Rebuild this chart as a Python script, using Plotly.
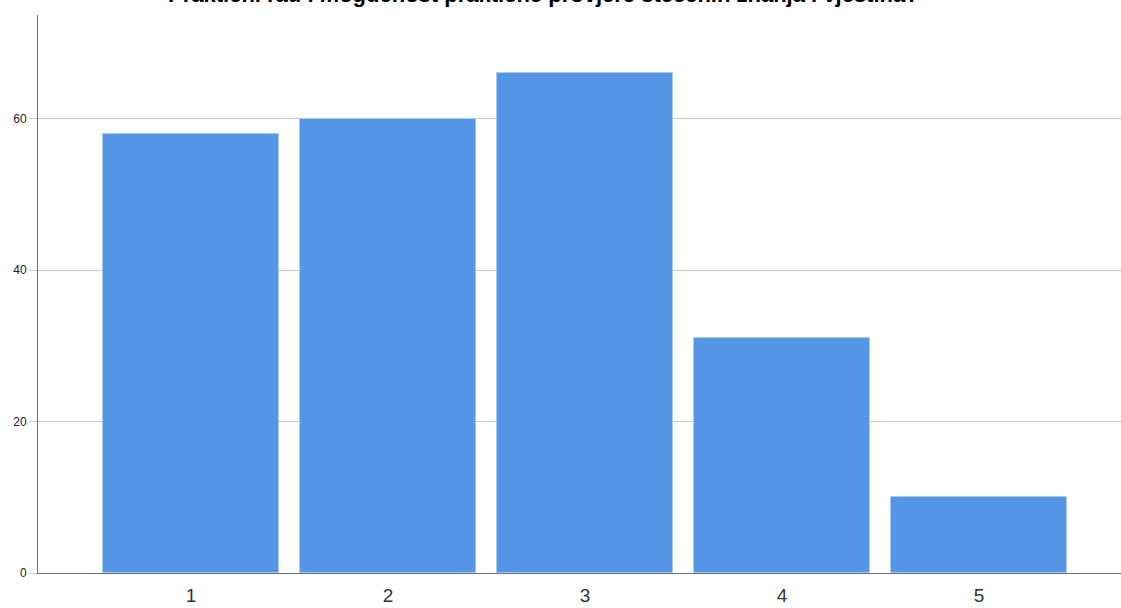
import plotly.graph_objects as go

categories = ["1", "2", "3", "4", "5"]
counts = [58, 60, 66, 31, 10]
y_ticks = [0, 20, 40, 60]
title_text = "Praktični rad i mogućnost praktične provjere stečenih znanja i vještina?"

fig = go.Figure()
fig.add_trace(go.Bar(
    x=[1, 2, 3, 4, 5],
    y=counts,
    width=0.893,
    marker=dict(color="#5596E6", line=dict(color="#A9C9F2", width=1)),
    hoverinfo="x+y",
))

fig.add_annotation(
    text="<b>" + title_text + "</b>",
    x=0.467, xref="paper", xanchor="center",
    y=1, yref="paper", yanchor="bottom", yshift=6,
    showarrow=False,
    font=dict(family="Liberation Sans, Arial", size=22, color="black"),
)

fig.update_layout(
    width=1121, height=608,
    margin=dict(l=38, r=0, t=15, b=35),
    paper_bgcolor="white", plot_bgcolor="white",
    showlegend=False,
    bargap=0,
)
fig.update_xaxes(
    range=[0.223, 5.72],
    tickmode="array", tickvals=[1, 2, 3, 4, 5], ticktext=categories,
    showgrid=False, showline=True, linecolor="#6e6e6e", linewidth=1,
    ticks="outside", ticklen=5, tickcolor="rgba(0,0,0,0)",
    tickfont=dict(family="Liberation Sans, Arial", size=19, color="#333333"),
    zeroline=False, fixedrange=True,
)
fig.update_yaxes(
    range=[0, 73.7],
    tickmode="array", tickvals=y_ticks,
    showgrid=True, gridcolor="#c8c8c8", gridwidth=1,
    showline=True, linecolor="#6e6e6e", linewidth=1,
    ticks="outside", ticklen=8, tickcolor="#c8c8c8",
    tickfont=dict(family="Liberation Sans, Arial", size=12, color="#222222"),
    zeroline=False, fixedrange=True,
)

fig.write_html(
    "out.html",
    config={"displayModeBar": False},
    post_script="document.body.style.margin='0';document.body.style.overflow='hidden';",
)
